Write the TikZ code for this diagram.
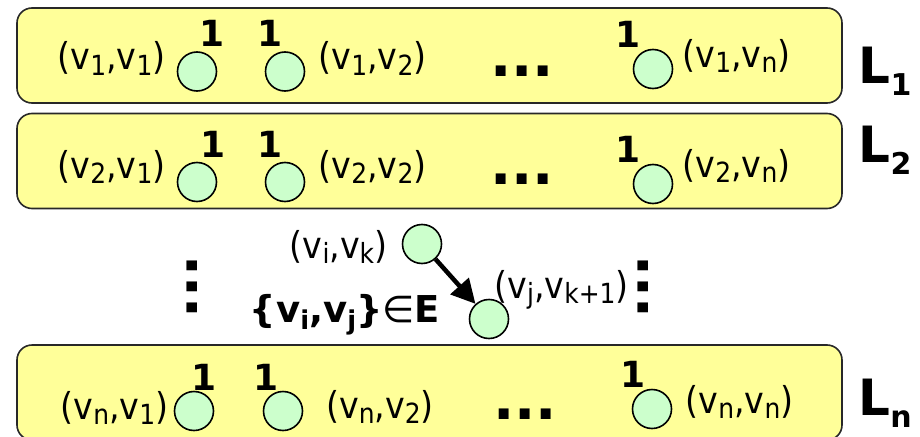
\documentclass[tikz,border=0pt]{standalone}
\usepackage{fontspec}
\setmainfont{DejaVu Sans}
\newfontfamily\labfont[FakeStretch=0.9]{DejaVu Sans}
\usetikzlibrary{arrows.meta}
\definecolor{boxyellow}{RGB}{255,255,153}
\definecolor{nodegreen}{RGB}{204,255,204}
\definecolor{boxline}{RGB}{40,40,40}
\newcommand\sbs[1]{\raisebox{-0.16em}{\scalebox{0.75}{#1}}}
\newcommand\lsub[1]{\raisebox{-0.24em}{\scalebox{0.6}{#1}}}
\newcommand\bsub[1]{\raisebox{-0.2em}{\scalebox{0.7}{#1}}}
\tikzset{
  layerbox/.style={draw=boxline, line width=1.6pt, fill=boxyellow, rounded corners=15pt,
    minimum width=825pt, minimum height=95pt, inner sep=0pt},
  vnode/.style={circle, draw=black, line width=1.6pt, fill=nodegreen, minimum size=39pt, inner sep=0pt},
  lab/.style={anchor=base, inner sep=0pt, font=\labfont\fontsize{37}{40}\selectfont},
  one/.style={anchor=base, inner sep=0pt, font=\bfseries\fontsize{36}{40}\selectfont},
  dots/.style={inner sep=0pt, font=\bfseries\fontsize{56}{60}\selectfont},
  layername/.style={anchor=base, inner sep=0pt, font=\bfseries\fontsize{50}{54}\selectfont},
  edgelab/.style={anchor=base, inner sep=0pt, font=\bfseries\fontsize{37}{40}\selectfont},
  arr/.style={line width=4.5pt, -{Triangle[length=24pt,width=24pt]}}
}
\begin{document}
\begin{tikzpicture}[x=1pt,y=-1pt]
\useasboundingbox (0,0) rectangle (920,436);
\clip (0,0) rectangle (920,436);
% layer boxes
\node[layerbox] (B1) at (429.5,55.5) {};
\node[layerbox] (B2) at (429.5,161) {};
\node[layerbox] (Bn) at (429.5,392.5) {};
% row 1
\node[vnode] (c11) at (197,71.5) {};
\node[vnode] (c12) at (285,71.5) {};
\node[vnode] (c1n) at (653,69) {};
\node[one] (o11) at (212,47) {1};
\node[one] (o12) at (270,47) {1};
\node[one] (o1n) at (628,48) {1};
\node[lab] (t11) at (111.5,70) {(v\sbs{1},v\sbs{1})};
\node[lab] (t12) at (372.5,70) {(v\sbs{1},v\sbs{2})};
\node[lab] (t1n) at (736.5,67) {(v\sbs{1},v\sbs{n})};
\node[dots] (d1) at (522,71) {...};
\node[layername] (L1) at (885,83) {L\lsub{1}};
% row 2
\node[vnode] (c21) at (197,182) {};
\node[vnode] (c22) at (285,182) {};
\node[vnode] (c2n) at (653,184) {};
\node[one] (o21) at (213,157) {1};
\node[one] (o22) at (270,157) {1};
\node[one] (o2n) at (628,162) {1};
\node[lab] (t21) at (111.5,178) {(v\sbs{2},v\sbs{1})};
\node[lab] (t22) at (372.5,178) {(v\sbs{2},v\sbs{2})};
\node[lab] (t2n) at (736.5,177) {(v\sbs{2},v\sbs{n})};
\node[dots] (d2) at (522,179) {...};
\node[layername] (L2) at (885,162) {L\lsub{2}};
% middle
\node[vnode] (vi) at (422,244) {};
\node[vnode] (vj) at (489,319) {};
\node[lab] (tvi) at (338.5,258) {(v\sbs{i},v\sbs{k})};
\node[lab] (tvj) at (561.5,298) {(v\sbs{j},v\sbs{k+1})};
\node[edgelab] (edge) at (345,322) {\{v\bsub{i},v\bsub{j}\}{\mdseries∈}E};
\node[dots, rotate=90] (vd1) at (192,287) {...};
\node[dots, rotate=90] (vd2) at (643,287) {...};
\draw[arr] (vi) -- (vj);
% row n
\node[vnode] (cn1) at (194,411) {};
\node[vnode] (cn2) at (283,411) {};
\node[vnode] (cnn) at (652,409) {};
\node[one] (on1) at (204,390) {1};
\node[one] (on2) at (266,390) {1};
\node[one] (onn) at (633,387) {1};
\node[lab] (tn1) at (114.5,419) {(v\sbs{n},v\sbs{1})};
\node[lab] (tn2) at (380,418) {(v\sbs{n},v\sbs{2})};
\node[lab] (tnn) at (739.5,413) {(v\sbs{n},v\sbs{n})};
\node[dots] (dn) at (525,414) {...};
\node[layername] (Ln) at (885,415) {L\lsub{n}};
\end{tikzpicture}
\end{document}
